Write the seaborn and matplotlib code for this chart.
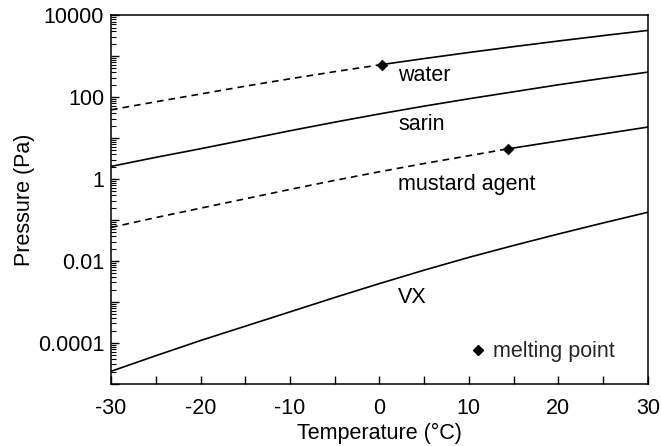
import numpy as np
import pandas as pd
import matplotlib
matplotlib.use("Agg")
import matplotlib.pyplot as plt
import matplotlib.ticker as mticker
from matplotlib.lines import Line2D
import seaborn as sns

# ---- data ----
temps = [-30, -25, -20, -15, -10, -5, 0, 5, 10, 15, 20, 25, 30]
water = [49, 77, 119, 185, 280, 418, 611, 872, 1228, 1705, 2339, 3169, 4246]
sarin = [2.04, 3.39, 5.5, 9.1, 15.1, 24.5, 38.9, 60.3, 91.2, 135, 200, 288, 407]
mustard = [0.066, 0.115, 0.195, 0.33, 0.56, 0.93, 1.51, 2.4, 3.72, 5.75, 8.5, 12.6, 18.6]
vx = [2.04e-5, 4.9e-5, 1.15e-4, 2.57e-4, 5.75e-4, 1.29e-3, 2.82e-3, 6.0e-3,
      1.23e-2, 2.4e-2, 4.57e-2, 8.5e-2, 0.155]

water_melt_T, water_melt_P = 0.3, 625
mustard_melt_T, mustard_melt_P = 14.4, 5.5

labels = ["water", "sarin", "mustard agent", "VX"]
label_T = [2.1, 2.1, 2.1, 2.1]
label_P = [330, 21, 0.74, 1.3e-3]

xticks = [-30, -20, -10, 0, 10, 20, 30]
yticks = [1e-4, 1e-2, 1, 1e2, 1e4]

FS = 15.5

sns.set_theme(style="ticks")
plt.rcParams["font.family"] = ["Liberation Sans", "DejaVu Sans"]

fig = plt.figure(figsize=(6.61, 4.46), dpi=100)
ax = fig.add_axes([0.168, 0.139, 0.812, 0.827])

dash = (0, (4, 3))
lw = 1.2


def split(T, P, mT, mP):
    df = pd.DataFrame({"T": T, "P": P})
    below = pd.concat([df[df["T"] < mT], pd.DataFrame({"T": [mT], "P": [mP]})])
    above = pd.concat([pd.DataFrame({"T": [mT], "P": [mP]}), df[df["T"] > mT]])
    return below, above


def draw(df, style):
    sns.lineplot(data=df, x="T", y="P", ax=ax, color="black", lw=lw,
                 linestyle=style, estimator=None, sort=True)


wb, wa = split(temps, water, water_melt_T, water_melt_P)
mb, ma = split(temps, mustard, mustard_melt_T, mustard_melt_P)
draw(wb, dash)
draw(wa, "-")
draw(pd.DataFrame({"T": temps, "P": sarin}), "-")
draw(mb, dash)
draw(ma, "-")
draw(pd.DataFrame({"T": temps, "P": vx}), "-")

melt = pd.DataFrame({"T": [water_melt_T, mustard_melt_T],
                     "P": [water_melt_P, mustard_melt_P]})
sns.scatterplot(data=melt, x="T", y="P", ax=ax, marker="D", s=30,
                color="black", edgecolor="black", zorder=5)

for lab, t, p in zip(labels, label_T, label_P):
    ax.text(t, p, lab, fontsize=FS, ha="left", va="center", color="black")

ax.set_yscale("log")
ax.set_xlim(-30, 30)
ax.set_ylim(1e-5, 1e4)

ax.set_xticks(xticks)
ax.set_xticklabels([str(t) for t in xticks])
ax.xaxis.set_minor_locator(mticker.MultipleLocator(5))

ax.yaxis.set_major_locator(mticker.LogLocator(base=10, numticks=20))
ax.yaxis.set_minor_locator(mticker.LogLocator(base=10, subs=np.arange(2, 10), numticks=20))


def yfmt(v, pos):
    for t in yticks:
        if abs(np.log10(v) - np.log10(t)) < 1e-6:
            s = f"{t:.4f}".rstrip("0").rstrip(".")
            return s
    return ""


ax.yaxis.set_major_formatter(mticker.FuncFormatter(yfmt))
ax.yaxis.set_minor_formatter(mticker.NullFormatter())

ax.tick_params(axis="both", which="both", direction="in", colors="black",
               labelsize=FS, top=False, right=False)
ax.tick_params(axis="x", which="major", length=6, width=1, pad=10)
ax.tick_params(axis="x", which="minor", length=6, width=1)
ax.tick_params(axis="y", which="major", length=6, width=1, pad=5)
ax.tick_params(axis="y", which="minor", length=3.5, width=0.8)

for s in ax.spines.values():
    s.set_visible(True)
    s.set_color("black")
    s.set_linewidth(1.1)

ax.set_xlabel("Temperature (°C)", fontsize=FS, color="black", labelpad=3)
ax.set_ylabel("Pressure (Pa)", fontsize=FS, color="black", labelpad=2)

handle = Line2D([], [], marker="D", color="black", linestyle="none", markersize=5.5)
ax.legend([handle], ["melting point"], loc="center left",
          bbox_to_anchor=(0.672, 0.087), frameon=False, fontsize=FS,
          handlelength=0.6, handletextpad=0.4, borderpad=0, borderaxespad=0)

fig.savefig("out.png", dpi=100)
